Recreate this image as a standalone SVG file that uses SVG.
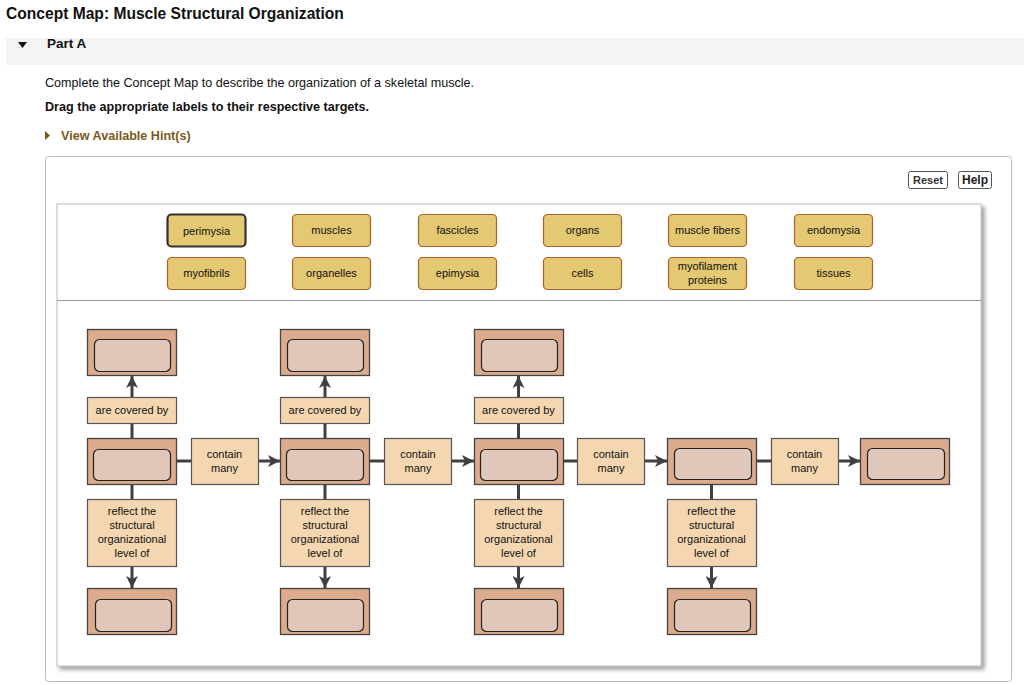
<svg xmlns="http://www.w3.org/2000/svg" width="1024" height="685" viewBox="0 0 1024 685">
<defs>
<marker id="ah" viewBox="0 0 12 12" refX="12" refY="6" markerWidth="12" markerHeight="12" markerUnits="userSpaceOnUse" orient="auto">
<path d="M0,0 L12,6 L0,12 L3,6 Z" fill="#404040"/>
</marker>
<filter id="sh" x="-5%" y="-5%" width="110%" height="110%">
<feDropShadow dx="3" dy="3" stdDeviation="2" flood-color="#000" flood-opacity="0.4"/>
</filter>
</defs>
<style>
text{font-family:"Liberation Sans",Arial,sans-serif;fill:#111}
.lbl{fill:#e4c872;stroke:#a8622a;stroke-width:1.2}
.lt{font-size:11px;text-anchor:middle}
.co{fill:#dbab8c;stroke:#444;stroke-width:1.3}
.ci{fill:#e0c7b9;stroke:#222;stroke-width:1.2}
.lk{fill:#f4d7b0;stroke:#555;stroke-width:1.2}
.ln{stroke:#404040;stroke-width:3;fill:none}
</style>
<rect width="1024" height="685" fill="#fff"/>
<text x="6" y="19" font-size="15.6" font-weight="bold">Concept Map: Muscle Structural Organization</text>
<rect x="6" y="38" width="1018" height="27" fill="#f4f4f4"/>
<path d="M18,42 L27,42 L22.5,48 Z" fill="#111"/>
<text x="47" y="48" font-size="13.5" font-weight="bold">Part A</text>
<text x="45" y="87" font-size="12.6">Complete the Concept Map to describe the organization of a skeletal muscle.</text>
<text x="45" y="111" font-size="12.6" font-weight="bold">Drag the appropriate labels to their respective targets.</text>
<path d="M45,131 L50,135.5 L45,140 Z" fill="#7a5a1c"/>
<text x="61" y="140" font-size="12.6" font-weight="bold" style="fill:#7a5a1c">View Available Hint(s)</text>
<rect x="45.5" y="156.5" width="966" height="525" rx="3" fill="#fff" stroke="#bbb"/>
<g id="buttons">
<rect x="908.5" y="171.5" width="39" height="17" rx="2" fill="#fff" stroke="#555"/>
<text x="928" y="184" font-size="11" font-weight="bold" text-anchor="middle" style="fill:#333">Reset</text>
<rect x="958.5" y="171.5" width="33" height="17" rx="2" fill="#fff" stroke="#555"/>
<text x="975" y="184" font-size="12" font-weight="bold" text-anchor="middle" style="fill:#222">Help</text>
</g>
<rect x="57" y="204" width="924" height="462" fill="#fff" stroke="#bbb" filter="url(#sh)"/>
<line x1="57" y1="300.5" x2="981" y2="300.5" stroke="#999" stroke-width="1"/>
<g id="labels">
<g id="lbl-perimysia"><rect x="167.5" y="214.5" width="78" height="32" rx="4" class="lbl" style="stroke:#333;stroke-width:2.2"/><text x="206.5" y="234.5" class="lt">perimysia</text></g>
<g id="lbl-muscles"><rect x="292.5" y="214.5" width="78" height="32" rx="4" class="lbl"/><text x="331.5" y="233.5" class="lt">muscles</text></g>
<g id="lbl-fascicles"><rect x="418.5" y="214.5" width="78" height="32" rx="4" class="lbl"/><text x="457.5" y="233.5" class="lt">fascicles</text></g>
<g id="lbl-organs"><rect x="543.5" y="214.5" width="78" height="32" rx="4" class="lbl"/><text x="582.5" y="233.5" class="lt">organs</text></g>
<g id="lbl-musclefibers"><rect x="668.5" y="214.5" width="78" height="32" rx="4" class="lbl"/><text x="707.5" y="233.5" class="lt">muscle fibers</text></g>
<g id="lbl-endomysia"><rect x="794.5" y="214.5" width="78" height="32" rx="4" class="lbl"/><text x="833.5" y="233.5" class="lt">endomysia</text></g>
<g id="lbl-myofibrils"><rect x="167.5" y="257.5" width="78" height="32" rx="4" class="lbl"/><text x="206.5" y="276.5" class="lt">myofibrils</text></g>
<g id="lbl-organelles"><rect x="292.5" y="257.5" width="78" height="32" rx="4" class="lbl"/><text x="331.5" y="276.5" class="lt">organelles</text></g>
<g id="lbl-epimysia"><rect x="418.5" y="257.5" width="78" height="32" rx="4" class="lbl"/><text x="457.5" y="276.5" class="lt">epimysia</text></g>
<g id="lbl-cells"><rect x="543.5" y="257.5" width="78" height="32" rx="4" class="lbl"/><text x="582.5" y="276.5" class="lt">cells</text></g>
<g id="lbl-myofilament"><rect x="668.5" y="257.5" width="78" height="32" rx="4" class="lbl"/><text x="707.5" y="270" class="lt">myofilament</text><text x="707.5" y="283.5" class="lt">proteins</text></g>
<g id="lbl-tissues"><rect x="794.5" y="257.5" width="78" height="32" rx="4" class="lbl"/><text x="833.5" y="276.5" class="lt">tissues</text></g>
</g>
<g id="connectors">
<line x1="132" y1="438" x2="132" y2="376" class="ln" marker-end="url(#ah)"/>
<line x1="325" y1="438" x2="325" y2="376" class="ln" marker-end="url(#ah)"/>
<line x1="518.5" y1="438" x2="518.5" y2="376" class="ln" marker-end="url(#ah)"/>
<line x1="132" y1="484" x2="132" y2="588" class="ln" marker-end="url(#ah)"/>
<line x1="325" y1="484" x2="325" y2="588" class="ln" marker-end="url(#ah)"/>
<line x1="518.5" y1="484" x2="518.5" y2="588" class="ln" marker-end="url(#ah)"/>
<line x1="711.5" y1="484" x2="711.5" y2="588" class="ln" marker-end="url(#ah)"/>
<line x1="177" y1="461" x2="280" y2="461" class="ln" marker-end="url(#ah)"/>
<line x1="370" y1="461" x2="474" y2="461" class="ln" marker-end="url(#ah)"/>
<line x1="563" y1="461" x2="667" y2="461" class="ln" marker-end="url(#ah)"/>
<line x1="756" y1="461" x2="860" y2="461" class="ln" marker-end="url(#ah)"/>
</g>
<g id="link-labels">
<g id="cov1"><rect x="87.5" y="397.5" width="89" height="26" class="lk"/><text x="132" y="414" class="lt">are covered by</text></g>
<g id="cov2"><rect x="280.5" y="397.5" width="89" height="26" class="lk"/><text x="325" y="414" class="lt">are covered by</text></g>
<g id="cov3"><rect x="474.5" y="397.5" width="89" height="26" class="lk"/><text x="518.5" y="414" class="lt">are covered by</text></g>
<g id="cm1"><rect x="191.5" y="438.5" width="67" height="46" class="lk"/><text x="224.5" y="458" class="lt">contain</text><text x="224.5" y="472" class="lt">many</text></g>
<g id="cm2"><rect x="384.5" y="438.5" width="67" height="46" class="lk"/><text x="418" y="458" class="lt">contain</text><text x="418" y="472" class="lt">many</text></g>
<g id="cm3"><rect x="577.5" y="438.5" width="67" height="46" class="lk"/><text x="611" y="458" class="lt">contain</text><text x="611" y="472" class="lt">many</text></g>
<g id="cm4"><rect x="771.5" y="438.5" width="67" height="46" class="lk"/><text x="804.5" y="458" class="lt">contain</text><text x="804.5" y="472" class="lt">many</text></g>
<g id="rf1"><rect x="87.5" y="499.5" width="89" height="67" class="lk"/><text x="132" y="515" class="lt">reflect the</text><text x="132" y="529" class="lt">structural</text><text x="132" y="543" class="lt">organizational</text><text x="132" y="557" class="lt">level of</text></g>
<g id="rf2"><rect x="280.5" y="499.5" width="89" height="67" class="lk"/><text x="325" y="515" class="lt">reflect the</text><text x="325" y="529" class="lt">structural</text><text x="325" y="543" class="lt">organizational</text><text x="325" y="557" class="lt">level of</text></g>
<g id="rf3"><rect x="474.5" y="499.5" width="89" height="67" class="lk"/><text x="518.5" y="515" class="lt">reflect the</text><text x="518.5" y="529" class="lt">structural</text><text x="518.5" y="543" class="lt">organizational</text><text x="518.5" y="557" class="lt">level of</text></g>
<g id="rf4"><rect x="667.5" y="499.5" width="89" height="67" class="lk"/><text x="711.5" y="515" class="lt">reflect the</text><text x="711.5" y="529" class="lt">structural</text><text x="711.5" y="543" class="lt">organizational</text><text x="711.5" y="557" class="lt">level of</text></g>
</g>
<g id="targets">
<g id="t-top1"><rect x="87.5" y="329.5" width="89" height="46" class="co"/><rect x="94.5" y="339.5" width="76" height="32" rx="5" class="ci"/></g>
<g id="t-top2"><rect x="280.5" y="329.5" width="89" height="46" class="co"/><rect x="287.5" y="339.5" width="76" height="32" rx="5" class="ci"/></g>
<g id="t-top3"><rect x="474.5" y="329.5" width="89" height="46" class="co"/><rect x="481.5" y="339.5" width="76" height="32" rx="5" class="ci"/></g>
<g id="t-mid1"><rect x="87.5" y="438.5" width="89" height="46" class="co"/><rect x="93.5" y="449.5" width="77" height="31" rx="5" class="ci"/></g>
<g id="t-mid2"><rect x="280.5" y="438.5" width="89" height="46" class="co"/><rect x="286.5" y="449.5" width="77" height="31" rx="5" class="ci"/></g>
<g id="t-mid3"><rect x="474.5" y="438.5" width="89" height="46" class="co"/><rect x="480.5" y="449.5" width="77" height="31" rx="5" class="ci"/></g>
<g id="t-mid4"><rect x="667.5" y="438.5" width="89" height="46" class="co"/><rect x="674.5" y="448.5" width="77" height="31" rx="5" class="ci"/></g>
<g id="t-mid5"><rect x="860.5" y="438.5" width="89" height="46" class="co"/><rect x="867.5" y="448.5" width="77" height="31" rx="5" class="ci"/></g>
<g id="t-bot1"><rect x="87.5" y="588.5" width="89" height="46" class="co"/><rect x="95.5" y="599.5" width="76" height="32" rx="5" class="ci"/></g>
<g id="t-bot2"><rect x="280.5" y="588.5" width="89" height="46" class="co"/><rect x="287.5" y="599.5" width="76" height="32" rx="5" class="ci"/></g>
<g id="t-bot3"><rect x="474.5" y="588.5" width="89" height="46" class="co"/><rect x="481.5" y="599.5" width="76" height="32" rx="5" class="ci"/></g>
<g id="t-bot4"><rect x="667.5" y="588.5" width="89" height="46" class="co"/><rect x="674.5" y="599.5" width="76" height="32" rx="5" class="ci"/></g>
</g>
</svg>
